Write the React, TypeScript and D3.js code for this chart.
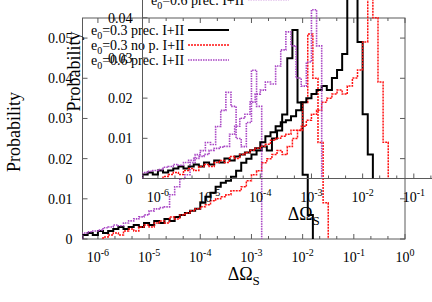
import React from "react";
import * as d3 from "d3";

// histograms of log10(ΔΩS), bins are 0.1 decade wide
const binWidth = 0.1;

// e0=0.3 prec. I+II
const blackStart = -6.3;
const blackValues = [
  0.001, 0.0015, 0.001, 0.002, 0.0015, 0.002, 0.0025, 0.003, 0.0025, 0.003,
  0.0035, 0.003, 0.004, 0.0035, 0.0045, 0.004, 0.005, 0.0045, 0.0055, 0.006,
  0.0065, 0.007, 0.0075, 0.009, 0.0105, 0.0115, 0.013, 0.014, 0.0145, 0.0155,
  0.017, 0.019, 0.02, 0.021, 0.022, 0.023, 0.022, 0.025, 0.027, 0.031,
  0.045, 0.052, 0.034, 0.016, 0.006,
];

// e0=0.3 no p. I+II
const redStart = -5.9;
const redValues = [
  0.0005, 0.001, 0.0015, 0.001, 0.002, 0.0025, 0.002, 0.003, 0.0035, 0.003,
  0.004, 0.0045, 0.004, 0.0055, 0.005, 0.006, 0.0065, 0.007, 0.0075, 0.008,
  0.0085, 0.0095, 0.01, 0.0105, 0.011, 0.012, 0.012, 0.013, 0.0145, 0.016,
  0.017, 0.019, 0.02, 0.021, 0.022, 0.021, 0.023, 0.025, 0.027, 0.034,
  0.051, 0.04, 0.024, 0.009,
];

// e0=0.6 prec. I+II
const purpleStart = -6.3;
const purpleValues = [
  0.0015, 0.0018, 0.002, 0.0022, 0.0028, 0.003, 0.0035, 0.0033, 0.004, 0.0045,
  0.005, 0.0055, 0.006, 0.007, 0.0075, 0.0078, 0.008, 0.011, 0.013, 0.015,
  0.016, 0.019, 0.021, 0.022, 0.024, 0.0235, 0.028, 0.032, 0.0365, 0.033,
  0.025, 0.023, 0.029, 0.042, 0.033,
];

const legendLabels = ["=0.3 prec. I+II", "=0.3 no p. I+II", "=0.6 prec. I+II"];
const xTickExps = [-6, -5, -4, -3, -2, -1, 0];
const yTicks = [0, 0.01, 0.02, 0.03, 0.04, 0.05];

const series = [
  { start: blackStart, values: blackValues, color: "#000", width: 2, dash: "" },
  { start: redStart, values: redValues, color: "#ff1010", width: 1.5, dash: "2 1" },
  { start: purpleStart, values: purpleValues, color: "#a844c4", width: 1.6, dash: "1.5 1" },
];

const W = 432;
const H = 302;
const left = 82.5, right = 405, top = 18, bottom = 239;
const font = "'Liberation Serif', 'Times New Roman', serif";
const frameColor = "#5a5a5a";

const x = d3.scaleLog().domain([5e-7, 1]).range([left, right]);
const y = d3.scaleLinear().domain([0, 0.055]).range([bottom, top]);

const stepLine = d3
  .line<{ lx: number; v: number }>()
  .x((p) => x(Math.pow(10, p.lx)))
  .y((p) => y(p.v))
  .curve(d3.curveStepAfter);

function histPath(start: number, values: number[]) {
  const pts = [{ lx: start, v: 0 }];
  values.forEach((v, i) => pts.push({ lx: start + i * binWidth, v }));
  pts.push({ lx: start + values.length * binWidth, v: 0 });
  return stepLine(pts) || "";
}

// minor ticks, a third of a decade apart
const minorTicks: number[] = [];
for (let d = -7; d < 0; d++) {
  [1 / 3, 2 / 3].forEach((f) => {
    const v = Math.pow(10, d + f);
    if (v > 5e-7 && v < 1) minorTicks.push(v);
  });
}

const Panel = ({ id, dx, dy }: { id: string; dx: number; dy: number }) => (
  <g transform={`translate(${dx},${dy})`} fontFamily={font}>
    <defs>
      <clipPath id={id}>
        <rect x={left} y={top} width={right - left} height={bottom - top} />
      </clipPath>
    </defs>
    {/* frame */}
    <rect x={left} y={top} width={right - left} height={bottom - top} fill="none" stroke={frameColor} strokeWidth={1} />
    {/* y ticks */}
    {yTicks.map((t) => (
      <g key={t}>
        <line x1={left} x2={left + 5} y1={y(t)} y2={y(t)} stroke={frameColor} />
        <line x1={right} x2={right - 5} y1={y(t)} y2={y(t)} stroke={frameColor} />
        <text x={left - 10} y={y(t) + 5} textAnchor="end" fontSize={14}>
          {t === 0 ? "0" : String(t)}
        </text>
      </g>
    ))}
    {/* x ticks */}
    {xTickExps.map((e) => (
      <g key={e}>
        <line x1={x(Math.pow(10, e))} x2={x(Math.pow(10, e))} y1={bottom} y2={bottom - 5} stroke={frameColor} />
        <line x1={x(Math.pow(10, e))} x2={x(Math.pow(10, e))} y1={top} y2={top + 5} stroke={frameColor} />
        <text x={x(Math.pow(10, e))} y={262} textAnchor="middle" fontSize={14}>
          10<tspan dy={-6} fontSize={10}>{e}</tspan>
        </text>
      </g>
    ))}
    {minorTicks.map((v) => (
      <g key={v}>
        <line x1={x(v)} x2={x(v)} y1={bottom} y2={bottom - 3} stroke={frameColor} />
        <line x1={x(v)} x2={x(v)} y1={top} y2={top + 3} stroke={frameColor} />
      </g>
    ))}
    {/* histograms */}
    <g clipPath={`url(#${id})`}>
      {series.map((s, i) => (
        <path key={i} d={histPath(s.start, s.values)} fill="none" stroke={s.color}
          strokeWidth={s.width} strokeDasharray={s.dash} />
      ))}
    </g>
    {/* axis labels */}
    <text transform={`translate(14,132) rotate(-90)`} textAnchor="middle" dominantBaseline="central" fontSize={18}>
      Probability
    </text>
    <text x={(left + right) / 2} y={280} textAnchor="middle" fontSize={18}>
      ΔΩ<tspan dy={5} fontSize={13}>S</tspan>
    </text>
    {/* key */}
    {series.map((s, i) => (
      <g key={i}>
        <text x={91} y={30 + i * 15 + 5} fontSize={14}>
          e<tspan dy={4} fontSize={10}>0</tspan>
          <tspan dy={-4}>{legendLabels[i]}</tspan>
        </text>
        <line x1={188} x2={229} y1={30 + i * 15} y2={30 + i * 15} stroke={s.color}
          strokeWidth={s.width} strokeDasharray={s.dash} />
      </g>
    ))}
  </g>
);

export default function App() {
  return (
    <svg width={W} height={H} style={{ position: "absolute", left: 0, top: 0, background: "#fff" }}>
      <Panel id="clip-main" dx={0} dy={0} />
      <Panel id="clip-inset" dx={60} dy={-60.5} />
    </svg>
  );
}
